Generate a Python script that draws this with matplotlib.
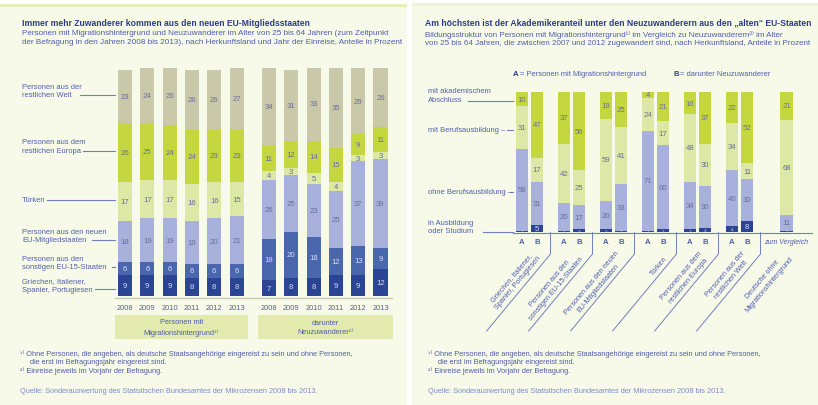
import numpy as np
import matplotlib
matplotlib.use("Agg")
import matplotlib.pyplot as plt
from matplotlib.patches import Rectangle

plt.rcParams['font.family'] = ['Liberation Sans', 'DejaVu Sans']

# ---- data: left chart (shares in percent, rows bottom -> top)
years = ['2008', '2009', '2010', '2011', '2012', '2013']
herkunft = ['Griechen, Italiener,\nSpanier, Portugiesen',
            'Personen aus den\nsonstigen EU-15-Staaten',
            'Personen aus den neuen\nEU-Mitgliedstaaten',
            'Türken',
            'Personen aus dem\nrestlichen Europa',
            'Personen aus der\nrestlichen Welt']
migration = [[9, 9, 9, 8, 8, 8],
             [6, 6, 6, 6, 6, 6],
             [18, 19, 19, 19, 20, 21],
             [17, 17, 17, 16, 16, 15],
             [26, 25, 24, 24, 23, 23],
             [23, 24, 26, 26, 26, 27]]
neuzuw = [[7, 8, 8, 9, 9, 12],
          [18, 20, 18, 12, 13, 9],
          [26, 25, 23, 25, 37, 39],
          [4, 3, 5, 4, 3, 3],
          [11, 12, 14, 15, 9, 11],
          [34, 31, 33, 35, 29, 26]]
gruppen = ['Personen mit\nMigrationshintergrund\u00b9\u207e', 'darunter\nNeuzuwanderer\u00b2\u207e']

# ---- data: right chart (rows bottom -> top)
bildung = ['in Ausbildung\noder Studium', 'ohne Berufsausbildung \u2013',
           'mit Berufsausbildung \u2013', 'mit akademischem\nAbschluss']
laender = ['Griechen, Italiener,\nSpanier, Portugiesen',
           'Personen aus den\nsonstigen EU-15-Staaten',
           'Personen aus den neuen\nEU-Mitgliedstaaten',
           'Türken',
           'Personen aus dem\nrestlichen Europa',
           'Personen aus der\nrestlichen Welt',
           'Deutsche ohne\nMigrationshintergrund']
bildung_a = [[1, 1, 2, 1, 2, 4],
             [58, 20, 20, 71, 34, 40],
             [31, 42, 59, 24, 48, 34],
             [10, 37, 19, 4, 16, 22]]
bildung_b = [[5, 2, 1, 2, 3, 8],
             [31, 17, 33, 60, 30, 30],
             [17, 25, 41, 17, 30, 11],
             [47, 56, 25, 21, 37, 52]]
deutsche = [1, 11, 68, 21]

# colours
panel = '#f7f9e9'
navy = '#2d3a8c'
textblue = '#4f5fab'
numcol = '#6a6f99'
left_cols = ['#2b4594', '#4a66ac', '#a7b1dc', '#dde8a6', '#c5d73f', '#c9c9a9']
right_cols = ['#2b4594', '#a7b1dc', '#dde8a6', '#c5d73f']

W, H = 818, 406
fig = plt.figure(figsize=(W / 100, H / 100), dpi=100)
fig.patch.set_facecolor('white')

bg = fig.add_axes([0, 0, 1, 1])
bg.set_xlim(0, W)
bg.set_ylim(H, 0)
bg.axis('off')
bg.add_patch(Rectangle((0, 5), 407, 401, color=panel, lw=0))
bg.add_patch(Rectangle((412, 5), 406, 401, color=panel, lw=0))
bg.add_patch(Rectangle((0, 5), 407, 2.5, color='#e4ebbc', lw=0))
bg.add_patch(Rectangle((412, 4), 406, 2.5, color='#eef2d6', lw=0))


def px_axes(x0, y0, x1, y1):
    a = fig.add_axes([x0 / W, 1 - y1 / H, (x1 - x0) / W, (y1 - y0) / H])
    a.axis('off')
    return a


# ================= left panel =================
bg.text(22, 23, 'Immer mehr Zuwanderer kommen aus den neuen EU-Mitgliedsstaaten',
        fontsize=6.2, fontweight='bold', color=navy, va='center')
bg.text(22, 38, 'Personen mit Migrationshintergrund und Neuzuwanderer im Alter von 25 bis 64 Jahren (zum Zeitpunkt\n'
        'der Befragung in den Jahren 2008 bis 2013), nach Herkunftsland und Jahr der Einreise, Anteile in Prozent',
        fontsize=5.85, color=textblue, va='center', linespacing=1.3)

axl = px_axes(110, 69, 395, 297)
axl.set_ylim(0, 100)
axl.set_xlim(-0.67, 12.1)
pos1 = np.arange(6)
pos2 = np.arange(6) + 6.45
for pos, data in ((pos1, migration), (pos2, neuzuw)):
    bottom = np.zeros(6)
    for k, row in enumerate(data):
        vals = np.array(row, dtype=float)
        axl.bar(pos, vals, 0.63, bottom=bottom, color=left_cols[k], linewidth=0)
        tc = '#d5dcf5' if k < 2 else numcol
        for x, b, v in zip(pos, bottom, vals):
            axl.text(x, b + v / 2, '%d' % v, ha='center', va='center', fontsize=5.6, color=tc)
        bottom += vals
    for x, yr in zip(pos, years):
        axl.text(x, -4.9, yr, ha='center', va='center', fontsize=5.4, color='#5a6090')
axl.plot([-0.45, 11.95], [-0.7, -0.7], color='#c8cab6', lw=1, clip_on=False)

# group boxes below years
for (x0, x1), name in zip(((115, 248), (258, 393)), gruppen):
    bg.add_patch(Rectangle((x0, 316), x1 - x0, 24, color='#e2eaae', lw=0))
    bg.text((x0 + x1) / 2, 328, name, ha='center', va='center', fontsize=5.3,
            color=textblue, linespacing=1.35)

# category labels with leader lines
left_lab = [(290, 282, 95), (268, 259, 112), (241, 232, 92), (201, 201, 47), (152, 142, 83), (96, 87, 80)]
for name, (yl, yt, xs) in zip(herkunft, left_lab):
    bg.text(22, (yl + yt) / 2 if '\n' in name else yl, name, fontsize=5.4, color=textblue,
            va='center', linespacing=1.35)
    bg.plot([xs, 115], [yl, yl], color='#7080bb', lw=0.8)

fn = ('\u00b9\u207e Ohne Personen, die angeben, als deutsche Staatsangehörige eingereist zu sein und ohne Personen,',
      '     die erst im Befragungsjahr eingereist sind.',
      '\u00b2\u207e Einreise jeweils im Vorjahr der Befragung.')
src = 'Quelle: Sonderauswertung des Statistischen Bundesamtes der Mikrozensen 2008 bis 2013.'
for x0 in (20, 428):
    for i, line in enumerate(fn):
        bg.text(x0, 354 + 8.3 * i, line, fontsize=5.35, color=textblue, va='center')
    bg.text(x0, 392, src, fontsize=5.35, color='#7f8cc4', va='center')

# ================= right panel =================
bg.text(425, 23, 'Am höchsten ist der Akademikeranteil unter den Neuzuwanderern aus den \u201ealten\u201c EU-Staaten',
        fontsize=6.2, fontweight='bold', color=navy, va='center')
bg.text(425, 39, 'Bildungsstruktur von Personen mit Migrationshintergrund\u00b9\u207e im Vergleich zu Neuzuwanderern\u00b2\u207e im Alter\n'
        'von 25 bis 64 Jahren, die zwischen 2007 und 2012 zugewandert sind, nach Herkunftsland, Anteile in Prozent',
        fontsize=5.75, color=textblue, va='center', linespacing=1.3)
bg.text(513, 75, 'A', fontsize=5.6, fontweight='bold', color=navy, va='center')
bg.text(520, 75, '= Personen mit Migrationshintergrund', fontsize=5.4, color=textblue, va='center')
bg.text(673, 75, 'B', fontsize=5.6, fontweight='bold', color=navy, va='center')
bg.text(680, 75, '= darunter Neuzuwanderer', fontsize=5.4, color=textblue, va='center')

axr = px_axes(505, 93, 815, 233)
axr.set_ylim(0, 100)
axr.set_xlim(-0.583, 6.798)
g = np.arange(6)
for pos, data in ((g - 0.18, bildung_a), (g + 0.18, bildung_b)):
    bottom = np.zeros(6)
    for k, row in enumerate(data):
        vals = np.array(row, dtype=float)
        axr.bar(pos, vals, 0.29, bottom=bottom, color=right_cols[k], linewidth=0)
        for x, b, v in zip(pos, bottom, vals):
            if k == 0:
                axr.text(x, b + v / 2, '%d' % v, ha='center', va='center',
                         fontsize=5.6 if v >= 5 else 3.2, color='#d5dcf5')
            else:
                axr.text(x, b + v / 2, '%d' % v, ha='center', va='center', fontsize=5.6, color=numcol)
        bottom += vals
    for x in pos:
        axr.text(x, -7.1, 'A' if pos[0] < 0 else 'B', ha='center', va='center',
                 fontsize=5.6, fontweight='bold', color=textblue)

xd = 6.12
bottom = 0
for k, v in enumerate(deutsche):
    axr.bar(xd, v, 0.29, bottom=bottom, color=right_cols[k], linewidth=0)
    axr.text(xd, bottom + v / 2, '%d' % v, ha='center', va='center',
             fontsize=5.6 if v >= 5 else 3.2, color='#d5dcf5' if k == 0 else numcol)
    bottom += v
axr.text(xd, -7.1, 'zum Vergleich', ha='center', va='center', fontsize=5,
         style='italic', color=textblue)
axr.plot([-0.39, 6.73], [-0.5, -0.5], color='#7080bb', lw=0.8, clip_on=False)

# separators and rotated country labels (label sits up-left of the line to its right)
for s in g + 0.5:
    axr.plot([s, s, s - 1.52], [-0.5, -15.7, -70.7], color='#7080bb', lw=0.7, clip_on=False)
for i, name in enumerate(laender):
    s = i + 0.5
    axr.text(s - 0.19, -19.3, name, rotation=50, rotation_mode='anchor', ha='right', va='bottom',
             multialignment='center', fontsize=5.2, color=textblue, linespacing=1.3)

# education labels with leader lines
right_lab = [(233, 222, 483), (193, 193, 510), (131, 131, 507), (102, 90, 468)]
for name, (yl, yt, xs) in zip(bildung, right_lab):
    bg.text(428, (yl + yt) / 2 if '\n' in name else yl, name, fontsize=5.4, color=textblue,
            va='center', linespacing=1.35)
    bg.plot([xs, 513], [yl, yl], color='#7080bb', lw=0.8)

fig.savefig('out.png', dpi=100, facecolor='white')
